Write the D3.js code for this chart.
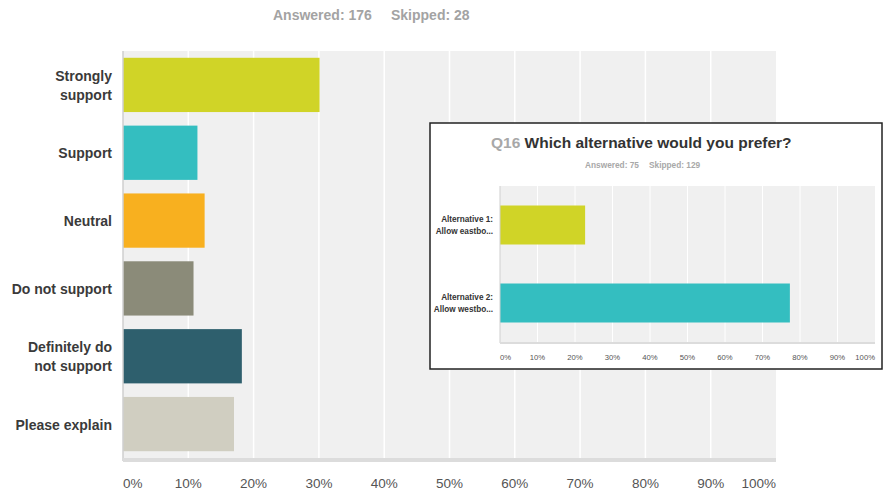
<!DOCTYPE html>
<html>
<head>
<meta charset="utf-8">
<script src="https://cdn.jsdelivr.net/npm/d3@7"></script>
<style>
  body { margin: 0; background: #fff; }
  svg { display: block; font-family: Arial, "Liberation Sans", Helvetica, sans-serif; }
</style>
</head>
<body>
<div id="chart"></div>
<script>
// Main question data
const categories = ["Strongly support", "Support", "Neutral", "Do not support", "Definitely do not support", "Please explain"];
const categoryLines = [["Strongly", "support"], ["Support"], ["Neutral"], ["Do not support"], ["Definitely do", "not support"], ["Please explain"]];
const values = [30.1, 11.4, 12.5, 10.8, 18.2, 17.0];
const barColors = ["#d0d427", "#34bec0", "#f8b01f", "#8b8b79", "#2e5f6d", "#d0cec1"];
const tickValues = [0, 10, 20, 30, 40, 50, 60, 70, 80, 90, 100];

// Inset (Q16) data
const insetCategories = ["Alternative 1: Allow eastbo...", "Alternative 2: Allow westbo..."];
const insetLines = [["Alternative 1:", "Allow eastbo..."], ["Alternative 2:", "Allow westbo..."]];
const insetValues = [22.7, 77.3];
const insetColors = ["#d0d427", "#34bec0"];

const width = 883, height = 494;

const svg = d3.select("#chart").append("svg")
  .attr("width", width)
  .attr("height", height);

// Header
svg.append("text")
  .attr("x", 273).attr("y", 20)
  .style("font-size", "14px").style("font-weight", "bold").style("fill", "#a3a3a3")
  .text("Answered: 176");
svg.append("text")
  .attr("x", 391).attr("y", 20)
  .style("font-size", "14px").style("font-weight", "bold").style("fill", "#a3a3a3")
  .text("Skipped: 28");

// ---- main chart ----
const m = { left: 123, right: 776, top: 51, bottom: 458 };

const x = d3.scaleLinear().domain([0, 100]).range([m.left, m.right]);
const y = d3.scaleBand().domain(categories).range([m.top, m.bottom])
  .paddingInner(0.2).paddingOuter(0.1);

svg.append("rect")
  .attr("x", m.left).attr("y", m.top)
  .attr("width", m.right - m.left).attr("height", m.bottom - m.top)
  .attr("fill", "#f0f0f0");

svg.selectAll(".grid")
  .data(tickValues.slice(1, -1))
  .join("line")
  .attr("x1", d => x(d)).attr("x2", d => x(d))
  .attr("y1", m.top).attr("y2", m.bottom)
  .attr("stroke", "#fff").attr("stroke-width", 1.5);

svg.selectAll(".bar")
  .data(categories)
  .join("rect")
  .attr("x", x(0))
  .attr("y", d => y(d))
  .attr("width", (d, i) => x(values[i]) - x(0))
  .attr("height", y.bandwidth())
  .attr("fill", (d, i) => barColors[i]);

// axis lines
svg.append("line")
  .attr("x1", m.left).attr("x2", m.left)
  .attr("y1", m.top).attr("y2", m.bottom + 3)
  .attr("stroke", "#cfcfcf").attr("stroke-width", 1.5);
svg.append("rect")
  .attr("x", m.left).attr("y", m.bottom)
  .attr("width", m.right - m.left).attr("height", 4)
  .attr("fill", "#dcdcdc");

// x tick labels
svg.selectAll(".xlab")
  .data(tickValues)
  .join("text")
  .attr("x", d => x(d))
  .attr("y", 488)
  .attr("text-anchor", (d, i) => i === 0 ? "start" : (i === tickValues.length - 1 ? "end" : "middle"))
  .style("font-size", "13.5px").style("fill", "#555")
  .text(d => d + "%");

// category labels
categories.forEach((c, i) => {
  const lines = categoryLines[i];
  const cy = y(c) + y.bandwidth() / 2;
  const t = svg.append("text")
    .attr("text-anchor", "end")
    .style("font-size", "14px").style("font-weight", "bold").style("fill", "#3a3a3a");
  lines.forEach((ln, j) => {
    t.append("tspan")
      .attr("x", 112)
      .attr("y", cy + 5.5 + (j - (lines.length - 1) / 2) * 19)
      .text(ln);
  });
});

// ---- inset ----
const box = { x: 430, y: 123, w: 452, h: 246 };
svg.append("rect")
  .attr("x", box.x).attr("y", box.y)
  .attr("width", box.w).attr("height", box.h)
  .attr("fill", "#fff").attr("stroke", "#222").attr("stroke-width", 1.5);

const title = svg.append("text")
  .attr("x", 491).attr("y", 148)
  .style("font-size", "15.5px").style("font-weight", "bold");
title.append("tspan").style("fill", "#a8a8a8").text("Q16 ");
title.append("tspan").style("fill", "#333").text("Which alternative would you prefer?");

svg.append("text")
  .attr("x", 585).attr("y", 168)
  .style("font-size", "8.3px").style("font-weight", "bold").style("fill", "#a8a8a8")
  .text("Answered: 75");
svg.append("text")
  .attr("x", 649).attr("y", 168)
  .style("font-size", "8.3px").style("font-weight", "bold").style("fill", "#a8a8a8")
  .text("Skipped: 129");

const im = { left: 500, right: 875, top: 186, bottom: 342 };
const ix = d3.scaleLinear().domain([0, 100]).range([im.left, im.right]);
const iy = d3.scaleBand().domain(insetCategories).range([im.top, im.bottom])
  .paddingInner(0.5).paddingOuter(0.25);

svg.append("rect")
  .attr("x", im.left).attr("y", im.top)
  .attr("width", im.right - im.left).attr("height", im.bottom - im.top)
  .attr("fill", "#f0f0f0");

svg.selectAll(".igrid")
  .data(tickValues.slice(1, -1))
  .join("line")
  .attr("x1", d => ix(d)).attr("x2", d => ix(d))
  .attr("y1", im.top).attr("y2", im.bottom)
  .attr("stroke", "#fff").attr("stroke-width", 1);

svg.selectAll(".ibar")
  .data(insetCategories)
  .join("rect")
  .attr("x", ix(0))
  .attr("y", d => iy(d))
  .attr("width", (d, i) => ix(insetValues[i]) - ix(0))
  .attr("height", iy.bandwidth())
  .attr("fill", (d, i) => insetColors[i]);

svg.append("line")
  .attr("x1", im.left).attr("x2", im.left)
  .attr("y1", im.top).attr("y2", im.bottom + 1)
  .attr("stroke", "#cfcfcf").attr("stroke-width", 1);
svg.append("rect")
  .attr("x", im.left).attr("y", im.bottom)
  .attr("width", im.right - im.left).attr("height", 2)
  .attr("fill", "#dcdcdc");

svg.selectAll(".ixlab")
  .data(tickValues)
  .join("text")
  .attr("x", d => ix(d))
  .attr("y", 359.5)
  .attr("text-anchor", (d, i) => i === 0 ? "start" : (i === tickValues.length - 1 ? "end" : "middle"))
  .style("font-size", "7.7px").style("fill", "#555")
  .text(d => d + "%");

insetCategories.forEach((c, i) => {
  const lines = insetLines[i];
  const cy = iy(c) + iy.bandwidth() / 2;
  const t = svg.append("text")
    .attr("text-anchor", "end")
    .style("font-size", "8.2px").style("font-weight", "bold").style("fill", "#333");
  lines.forEach((ln, j) => {
    t.append("tspan")
      .attr("x", 493)
      .attr("y", cy + 3 + (j - (lines.length - 1) / 2) * 11.5)
      .text(ln);
  });
});
</script>
</body>
</html>
